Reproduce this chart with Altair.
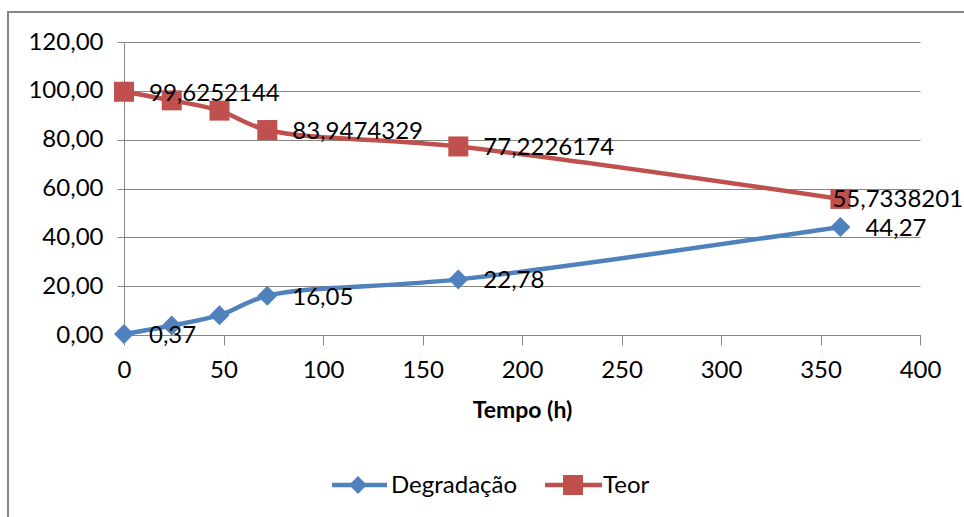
import altair as alt
import pandas as pd

# ---- data ----
tempo = [0, 24, 48, 72, 168, 360]
degradacao = [0.37, 3.9, 8.1, 16.05, 22.78, 44.27]
teor = [99.6252144, 96.1, 91.9, 83.9474329, 77.2226174, 55.7338201]
rot_degradacao = ["0,37", "", "", "16,05", "22,78", "44,27"]
rot_teor = ["99,6252144", "", "", "83,9474329", "77,2226174", "55,7338201"]
series = ["Degradação", "Teor"]
colors = ["#4F81BD", "#C0504D"]
x_ticks = [0, 50, 100, 150, 200, 250, 300, 350, 400]
y_ticks = [0, 20, 40, 60, 80, 100, 120]

rows = []
for t, v, r in zip(tempo, degradacao, rot_degradacao):
    rows.append({"tempo": t, "valor": v, "serie": series[0], "rotulo": r})
for t, v, r in zip(tempo, teor, rot_teor):
    rows.append({"tempo": t, "valor": v, "serie": series[1], "rotulo": r})
df = pd.DataFrame(rows)

FONT = "Lato"
FS = 24
GRAY = "#868686"
W, H = 796, 293

color_scale = alt.Scale(domain=series, range=colors)

x_enc = alt.X(
    "tempo:Q",
    scale=alt.Scale(domain=[0, 400], nice=False),
    axis=alt.Axis(
        values=x_ticks, title="Tempo (h)", titleFont=FONT, titleFontSize=FS - 1,
        titleFontWeight="bold", titleColor="#000000", titlePadding=17,
        labelFont=FONT, labelFontSize=FS, labelColor="#000000", labelPadding=13,
        tickSize=10, tickColor=GRAY, domainColor=GRAY, grid=False, labelFlush=False,
    ),
)
y_enc = alt.Y(
    "valor:Q",
    scale=alt.Scale(domain=[0, 120], nice=False),
    axis=alt.Axis(
        values=y_ticks, title=None, labelExpr="replace(format(datum.value, '.2f'), '.', ',')",
        labelFont=FONT, labelFontSize=FS, labelColor="#000000", labelPadding=14,
        tickSize=7, tickColor=GRAY, domainColor=GRAY, grid=True, gridColor=GRAY,
        gridWidth=1,
    ),
)

base = alt.Chart(df).encode(
    x=x_enc, y=y_enc,
    color=alt.Color("serie:N", scale=color_scale, legend=None),
)

lines = base.mark_line(interpolate="catmull-rom", strokeWidth=4.5).encode(
    detail="serie:N", order="tempo:Q"
)
points = base.mark_point(filled=True, size=400, opacity=1).encode(
    shape=alt.Shape("serie:N", scale=alt.Scale(domain=series, range=["diamond", "square"]), legend=None)
)

labels = base.mark_text(
    align="left", baseline="middle", dx=25, dy=2, font=FONT, fontSize=FS
).encode(text="rotulo:N", color=alt.value("#000000")).transform_filter(
    "datum.rotulo != '' && !(datum.serie == 'Teor' && datum.tempo == 360)"
)
labels_last = base.mark_text(
    align="left", baseline="middle", dx=-8, dy=1, font=FONT, fontSize=FS
).encode(text="rotulo:N", color=alt.value("#000000")).transform_filter(
    "datum.serie == 'Teor' && datum.tempo == 360"
)

# chart frame
frame = alt.Chart(pd.DataFrame({"k": [0]})).mark_rect(
    filled=False, stroke=GRAY, strokeWidth=2
).encode(
    x=alt.value(-116), x2=alt.value(1100), y=alt.value(-30), y2=alt.value(700)
)

# manual legend
leg_df = pd.DataFrame({"serie": series})
LY = 443
leg_layers = []
leg_pos = [
    # (line x0, line x1, marker x, text x, shape, size)
    (208, 263, 234, 267, "diamond", 320),
    (421, 478, 449, 479, "square", 400),
]
for s, c, (lx0, lx1, mx, tx, shp, sz) in zip(series, colors, leg_pos):
    src = alt.Chart(leg_df).transform_filter(alt.datum.serie == s)
    leg_layers.append(src.mark_rule(color=c, strokeWidth=4.5).encode(
        x=alt.value(lx0), x2=alt.value(lx1), y=alt.value(LY)))
    leg_layers.append(src.mark_point(filled=True, color=c, shape=shp, size=sz, opacity=1).encode(
        x=alt.value(mx), y=alt.value(LY)))
    leg_layers.append(src.mark_text(align="left", baseline="middle", font=FONT, fontSize=FS,
                                    color="#000000").encode(
        x=alt.value(tx), y=alt.value(LY + 1), text="serie:N"))

chart = alt.layer(frame, lines, points, labels, labels_last, *leg_layers).properties(
    width=W, height=H,
    autosize=alt.AutoSizeParams(type="none"),
    padding={"left": 124, "top": 42, "right": 44, "bottom": 182},
    background="#ffffff",
).configure_view(strokeWidth=0)

chart.save("out.html", embed_options={"renderer": "svg", "actions": False})
